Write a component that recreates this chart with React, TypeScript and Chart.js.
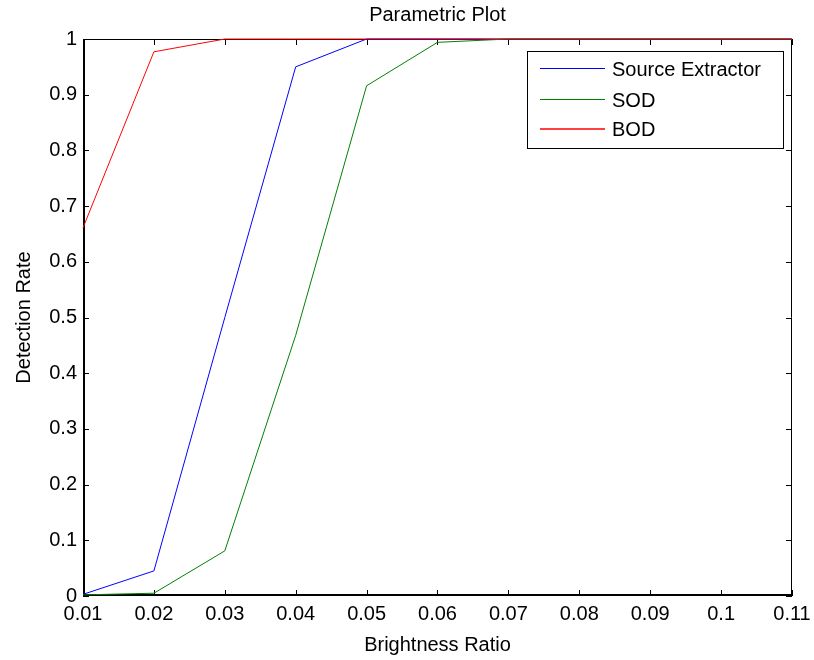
import React, { useEffect, useRef } from "react";
import { Chart, registerables } from "chart.js";

Chart.register(...registerables);

const brightnessRatio = [0.01, 0.02, 0.03, 0.04, 0.05, 0.06, 0.07, 0.08, 0.09, 0.1, 0.11];
const sourceExtractor = [0.003, 0.045, 0.5, 0.95, 1, 1, 1, 1, 1, 1, 1];
const sod = [0.002, 0.005, 0.081, 0.468, 0.916, 0.994, 1, 1, 1, 1, 1];
const bod = [0.661, 0.977, 1, 1, 1, 1, 1, 1, 1, 1, 1];
const seriesNames = ["Source Extractor", "SOD", "BOD"];
const seriesColors = ["#0000ff", "#008000", "#ff0000"];
const xTicks = [0.01, 0.02, 0.03, 0.04, 0.05, 0.06, 0.07, 0.08, 0.09, 0.1, 0.11];
const yTicks = [0, 0.1, 0.2, 0.3, 0.4, 0.5, 0.6, 0.7, 0.8, 0.9, 1];
const chartTitle = "Parametric Plot";
const xTitle = "Brightness Ratio";
const yTitle = "Detection Rate";

const FONT = "'Liberation Sans', Arial, sans-serif";
const FS = 20;

const matlabPlugin = {
  id: "matlabDecor",
  beforeDatasetsDraw(chart: any) {
    const { ctx, chartArea: a, scales } = chart;
    const tl = 6;
    ctx.save();
    ctx.strokeStyle = "#000";
    ctx.lineWidth = 1;
    ctx.beginPath();
    ctx.moveTo(a.left, a.top + 0.5);
    ctx.lineTo(a.right, a.top + 0.5);
    ctx.moveTo(a.right - 0.5, a.top);
    ctx.lineTo(a.right - 0.5, a.bottom);
    ctx.stroke();
    ctx.lineWidth = 2;
    ctx.beginPath();
    ctx.moveTo(a.left + 1, a.top);
    ctx.lineTo(a.left + 1, a.bottom);
    ctx.moveTo(a.left, a.bottom - 1);
    ctx.lineTo(a.right, a.bottom - 1);
    ctx.stroke();
    ctx.lineWidth = 1;
    ctx.beginPath();
    for (const v of xTicks) {
      const px = Math.round(scales.x.getPixelForValue(v)) + 0.5;
      ctx.moveTo(px, a.bottom);
      ctx.lineTo(px, a.bottom - tl);
      ctx.moveTo(px, a.top);
      ctx.lineTo(px, a.top + tl);
    }
    for (const v of yTicks) {
      const py = Math.round(scales.y.getPixelForValue(v)) + 0.5;
      ctx.moveTo(a.left, py);
      ctx.lineTo(a.left + tl, py);
      ctx.moveTo(a.right, py);
      ctx.lineTo(a.right - tl, py);
    }
    ctx.stroke();
    ctx.fillStyle = "#000";
    ctx.font = `${FS}px ${FONT}`;
    ctx.textAlign = "center";
    ctx.textBaseline = "middle";
    ctx.fillText(chartTitle, (a.left + a.right) / 2, 15);
    ctx.restore();
  },
  afterDatasetsDraw(chart: any) {
    const { ctx } = chart;
    const bx = 527, by = 51, bw = 256, bh = 97;
    ctx.save();
    ctx.fillStyle = "#fff";
    ctx.fillRect(bx, by, bw, bh);
    ctx.strokeStyle = "#000";
    ctx.lineWidth = 1;
    ctx.strokeRect(bx + 0.5, by + 0.5, bw, bh);
    const rows = [68.5, 99.5, 129];
    ctx.font = `${FS}px ${FONT}`;
    ctx.textAlign = "left";
    ctx.textBaseline = "middle";
    seriesNames.forEach((name, i) => {
      const y = rows[i];
      ctx.strokeStyle = seriesColors[i];
      ctx.lineWidth = i === 2 ? 1.5 : 1;
      ctx.beginPath();
      ctx.moveTo(540, y);
      ctx.lineTo(605, y);
      ctx.stroke();
      ctx.fillStyle = "#000";
      ctx.fillText(name, 612, Math.round(rows[i]) + 1);
    });
    ctx.restore();
  },
};

export default function App() {
  const ref = useRef<HTMLCanvasElement | null>(null);
  useEffect(() => {
    if (!ref.current) return;
    const mk = (vals: number[]) => brightnessRatio.map((x, i) => ({ x, y: vals[i] }));
    const all = [sourceExtractor, sod, bod];
    const chart = new Chart(ref.current, {
      type: "line",
      data: {
        datasets: all.map((vals, i) => ({
          label: seriesNames[i],
          data: mk(vals),
          borderColor: seriesColors[i],
          backgroundColor: seriesColors[i],
          borderWidth: 1,
          pointRadius: 0,
          tension: 0,
          fill: false,
          clip: false as any,
          order: 2 - i,
        })),
      },
      options: {
        animation: false,
        responsive: false,
        maintainAspectRatio: false,
        layout: { padding: { top: 39, right: 22, left: 0, bottom: 0 } },
        plugins: { legend: { display: false }, title: { display: false }, tooltip: { enabled: false } },
        scales: {
          x: {
            type: "linear",
            min: 0.01,
            max: 0.11,
            grid: { display: false, drawTicks: false },
            border: { display: false },
            afterBuildTicks: (s: any) => {
              s.ticks = xTicks.map((v) => ({ value: v }));
            },
            ticks: {
              padding: 6,
              color: "#000",
              font: { family: FONT, size: FS },
              maxRotation: 0,
              autoSkip: false,
              callback: (v: any) => String(Number(v)),
            },
            title: {
              display: true,
              text: xTitle,
              color: "#000",
              font: { family: FONT, size: FS },
              padding: { top: 0, bottom: 3 },
            },
            afterFit: (s: any) => {
              s.height = 64;
              s.paddingLeft = 0;
              s.paddingRight = 0;
            },
          },
          y: {
            type: "linear",
            min: 0,
            max: 1,
            grid: { display: false, drawTicks: false },
            border: { display: false },
            afterBuildTicks: (s: any) => {
              s.ticks = yTicks.map((v) => ({ value: v }));
            },
            ticks: {
              padding: 6,
              color: "#000",
              font: { family: FONT, size: FS },
              autoSkip: false,
              callback: (v: any) => String(Number(v)),
            },
            title: {
              display: true,
              text: yTitle,
              color: "#000",
              font: { family: FONT, size: FS },
              padding: { top: 12, bottom: 0 },
            },
            afterFit: (s: any) => {
              s.width = 83;
              s.paddingTop = 0;
              s.paddingBottom = 0;
            },
          },
        },
      },
      plugins: [matlabPlugin],
    });
    return () => chart.destroy();
  }, []);
  return (
    <div style={{ position: "fixed", left: 0, top: 0, width: 814, height: 660, background: "#fff" }}>
      <canvas ref={ref} width={814} height={660} style={{ width: 814, height: 660, display: "block" }} />
    </div>
  );
}
